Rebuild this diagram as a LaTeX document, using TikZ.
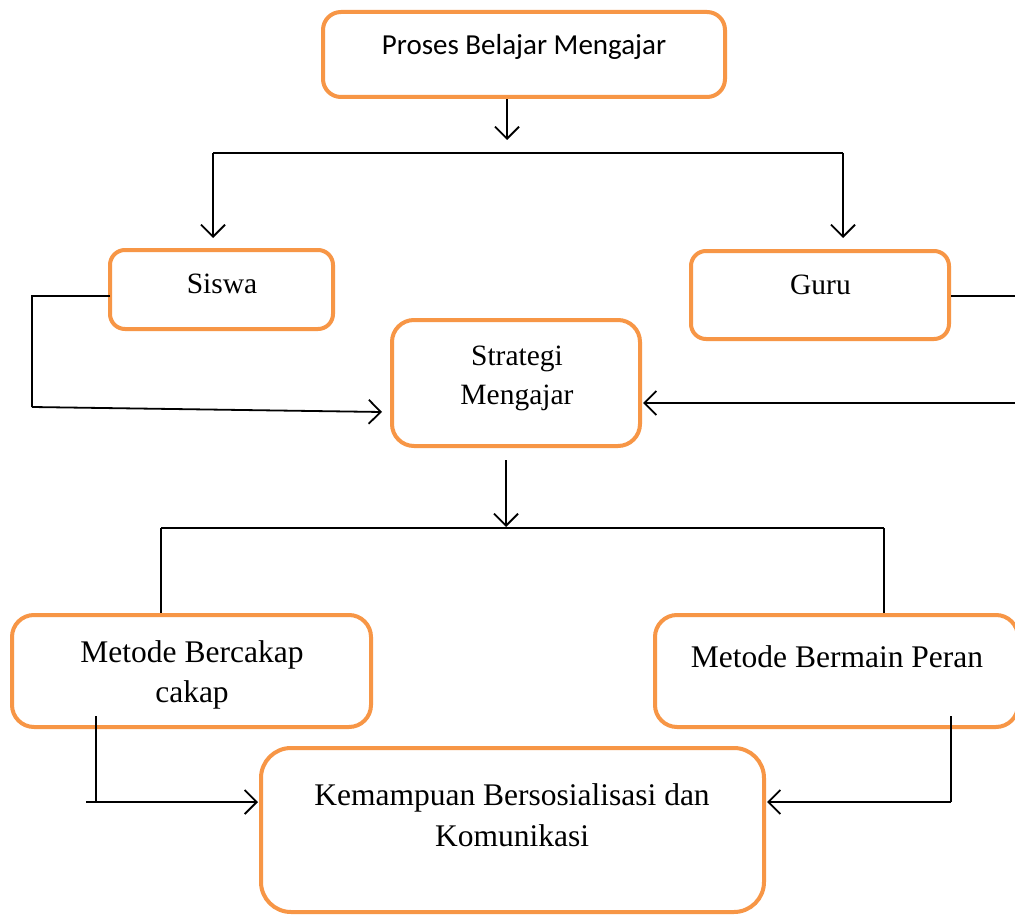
\documentclass[tikz,border=0pt]{standalone}
\usepackage{fontspec}
\setmainfont{Liberation Serif}
\newfontfamily\calfont{Carlito}
\usetikzlibrary{arrows.meta}
\definecolor{orng}{HTML}{F79646}
\begin{document}
\begin{tikzpicture}[x=1pt,y=-1pt,
  box/.style={draw=orng, line width=4pt, rounded corners=#1, fill=white, inner sep=0pt},
  box/.default=18pt,
  conn/.style={line width=1.8pt, draw=black},
  arr/.style={conn, -{Straight Barb[length=12pt,width=24pt,line width=1.8pt]}},
  lbl/.style={anchor=base, inner sep=0pt, align=center, font=\fontsize{31.5}{40}\selectfont},
  lbs/.style={anchor=base, inner sep=0pt, align=center, font=\fontsize{29.5}{39}\selectfont},
]
\useasboundingbox (0,0) rectangle (1015,915);
\fill[white] (0,0) rectangle (1015,915);

% boxes
\node[box=18pt, minimum width=402pt, minimum height=85pt] (pbm) at (524,54.5) {};
\node[box=15pt, minimum width=223pt, minimum height=79pt] (siswa) at (221.5,289.5) {};
\node[box=15pt, minimum width=258pt, minimum height=88pt] (guru) at (820,295) {};
\node[box=22pt, minimum width=248pt, minimum height=126pt] (strat) at (516,383) {};
\node[box=22pt, minimum width=359pt, minimum height=112pt] (mbc) at (191.5,671) {};
\node[box=22pt, minimum width=363pt, minimum height=112pt] (mbp) at (836.5,671) {};
\node[box=30pt, minimum width=503pt, minimum height=164pt] (kem) at (512.5,830) {};

% texts
\node[anchor=base, inner sep=0pt, font=\calfont\fontsize{29}{35}\selectfont] (tpbm) at (524,55) {Proses Belajar Mengajar};
\node[lbs] (tsiswa) at (222,293) {Siswa};
\node[lbs] (tguru) at (820.5,294) {Guru};
\node[lbs] (tstrat1) at (517,365) {Strategi};
\node[lbs] (tstrat2) at (517,404) {Mengajar};
\node[lbl] (tmbc1) at (192,662) {Metode Bercakap};
\node[lbl] (tmbc2) at (192,702) {cakap};
\node[lbl] (tmbp) at (837,667) {Metode Bermain Peran};
\node[lbl] (tkem1) at (512,805) {Kemampuan Bersosialisasi dan};
\node[lbl] (tkem2) at (512,846) {Komunikasi};

% coordinates
\coordinate (c1) at (507,99);
\coordinate (c2) at (507,140);
\coordinate (bl) at (213,153);
\coordinate (br) at (843,153);
\coordinate (sT) at (213,238);
\coordinate (gT) at (843,238);
\coordinate (s1) at (110,296);
\coordinate (s2) at (32,296);
\coordinate (s3) at (32,407);
\coordinate (s4) at (382,412);
\coordinate (g1) at (951,296);
\coordinate (g2) at (1016,296);
\coordinate (g3) at (1016,403);
\coordinate (g4) at (643,403);
\coordinate (m1) at (506,460);
\coordinate (m2) at (506,527);
\coordinate (hl) at (161,528);
\coordinate (hr) at (884,528);
\coordinate (l1) at (96,716);
\coordinate (l2) at (96,802);
\coordinate (l0) at (86,802);
\coordinate (l3) at (258,802);
\coordinate (r1) at (951,716);
\coordinate (r2) at (951,802);
\coordinate (r3) at (767,802);

% connectors
\draw[arr] (c1) -- (c2);
\draw[conn] (bl) -- (br);
\draw[arr] (bl) -- (sT);
\draw[arr] (br) -- (gT);
\draw[conn] (s1) -- (s2) -- (s3);
\draw[arr] (s3) -- (s4);
\draw[conn] (g1) -- (g2);
\draw[arr] (g3) -- (g4);
\draw[arr] (m1) -- (m2);
\draw[conn] (hl) -- (hr);
\draw[conn] (hl) -- (hl |- mbc.north);
\draw[conn] (hr) -- (hr |- mbp.north);
\draw[conn] (l1) -- (l2);
\draw[arr] (l0) -- (l3);
\draw[conn] (r1) -- (r2);
\draw[arr] (r2) -- (r3);
\end{tikzpicture}
\end{document}
